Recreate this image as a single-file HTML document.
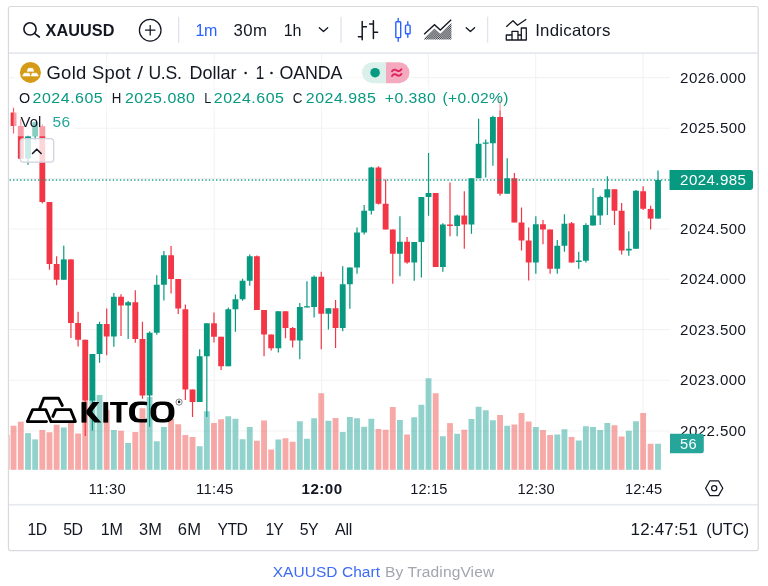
<!DOCTYPE html><html><head><meta charset="utf-8"><title>XAUUSD Chart</title>
<style>html,body{margin:0;padding:0;background:#fff}body{width:768px;height:586px;overflow:hidden;font-family:"Liberation Sans", sans-serif}svg{display:block;will-change:transform}text{font-family:"Liberation Sans", sans-serif}</style>
</head><body>
<svg width="768" height="586" viewBox="0 0 768 586">
<rect width="768" height="586" fill="#fff"/>
<g stroke="#F1F3F3" stroke-width="1.1">
<line x1="9.5" x2="669.7" y1="77.6" y2="77.6"/>
<line x1="9.5" x2="669.7" y1="128.2" y2="128.2"/>
<line x1="9.5" x2="669.7" y1="178.5" y2="178.5"/>
<line x1="9.5" x2="669.7" y1="229" y2="229"/>
<line x1="9.5" x2="669.7" y1="279.3" y2="279.3"/>
<line x1="9.5" x2="669.7" y1="329.6" y2="329.6"/>
<line x1="9.5" x2="669.7" y1="380.3" y2="380.3"/>
<line x1="9.5" x2="669.7" y1="431" y2="431"/>
<line x1="106.6" x2="106.6" y1="54" y2="470"/>
<line x1="214.2" x2="214.2" y1="54" y2="470"/>
<line x1="321.6" x2="321.6" y1="54" y2="470"/>
<line x1="428.3" x2="428.3" y1="54" y2="470"/>
<line x1="535.7" x2="535.7" y1="54" y2="470"/>
<line x1="643" x2="643" y1="54" y2="470"/>
</g>
<g id="vol">
<rect x="9.05" y="435" width="0.65" height="34.8" fill="rgba(239,83,80,0.5)"/>
<rect x="10.64" y="425.75" width="5.85" height="44.05" fill="rgba(239,83,80,0.5)"/>
<rect x="17.85" y="421.7" width="5.85" height="48.1" fill="rgba(239,83,80,0.5)"/>
<rect x="25.1" y="433.1" width="5.85" height="36.7" fill="rgba(38,166,154,0.5)"/>
<rect x="32.25" y="439.4" width="5.85" height="30.4" fill="rgba(38,166,154,0.5)"/>
<rect x="39.4" y="430" width="5.85" height="39.8" fill="rgba(239,83,80,0.5)"/>
<rect x="46.55" y="432.25" width="5.85" height="37.55" fill="rgba(239,83,80,0.5)"/>
<rect x="53.71" y="424.75" width="5.85" height="45.05" fill="rgba(239,83,80,0.5)"/>
<rect x="60.86" y="427.5" width="5.85" height="42.3" fill="rgba(38,166,154,0.5)"/>
<rect x="68.01" y="423" width="5.85" height="46.8" fill="rgba(239,83,80,0.5)"/>
<rect x="75.16" y="433.5" width="5.85" height="36.3" fill="rgba(239,83,80,0.5)"/>
<rect x="82.31" y="401" width="5.85" height="68.8" fill="rgba(239,83,80,0.5)"/>
<rect x="89.47" y="398.5" width="5.85" height="71.3" fill="rgba(38,166,154,0.5)"/>
<rect x="96.62" y="395" width="5.85" height="74.8" fill="rgba(38,166,154,0.5)"/>
<rect x="103.77" y="410" width="5.85" height="59.8" fill="rgba(239,83,80,0.5)"/>
<rect x="110.92" y="430" width="5.85" height="39.8" fill="rgba(38,166,154,0.5)"/>
<rect x="118.08" y="430.75" width="5.85" height="39.05" fill="rgba(239,83,80,0.5)"/>
<rect x="125.23" y="443" width="5.85" height="26.8" fill="rgba(38,166,154,0.5)"/>
<rect x="132.38" y="432" width="5.85" height="37.8" fill="rgba(239,83,80,0.5)"/>
<rect x="139.53" y="408.25" width="5.85" height="61.55" fill="rgba(239,83,80,0.5)"/>
<rect x="146.68" y="397" width="5.85" height="72.8" fill="rgba(38,166,154,0.5)"/>
<rect x="153.83" y="441.25" width="5.85" height="28.55" fill="rgba(38,166,154,0.5)"/>
<rect x="160.99" y="427" width="5.85" height="42.8" fill="rgba(38,166,154,0.5)"/>
<rect x="168.14" y="419" width="5.85" height="50.8" fill="rgba(239,83,80,0.5)"/>
<rect x="175.29" y="424.25" width="5.85" height="45.55" fill="rgba(239,83,80,0.5)"/>
<rect x="182.44" y="435" width="5.85" height="34.8" fill="rgba(239,83,80,0.5)"/>
<rect x="189.59" y="437" width="5.85" height="32.8" fill="rgba(239,83,80,0.5)"/>
<rect x="196.75" y="446.25" width="5.85" height="23.55" fill="rgba(38,166,154,0.5)"/>
<rect x="203.9" y="411.25" width="5.85" height="58.55" fill="rgba(38,166,154,0.5)"/>
<rect x="211.05" y="423" width="5.85" height="46.8" fill="rgba(239,83,80,0.5)"/>
<rect x="218.2" y="419.25" width="5.85" height="50.55" fill="rgba(239,83,80,0.5)"/>
<rect x="225.35" y="416.25" width="5.85" height="53.55" fill="rgba(38,166,154,0.5)"/>
<rect x="232.51" y="418.75" width="5.85" height="51.05" fill="rgba(38,166,154,0.5)"/>
<rect x="239.66" y="439.25" width="5.85" height="30.55" fill="rgba(38,166,154,0.5)"/>
<rect x="246.81" y="427" width="5.85" height="42.8" fill="rgba(38,166,154,0.5)"/>
<rect x="253.96" y="440.75" width="5.85" height="29.05" fill="rgba(239,83,80,0.5)"/>
<rect x="261.12" y="420.5" width="5.85" height="49.3" fill="rgba(239,83,80,0.5)"/>
<rect x="268.27" y="449.5" width="5.85" height="20.3" fill="rgba(239,83,80,0.5)"/>
<rect x="275.42" y="439.5" width="5.85" height="30.3" fill="rgba(38,166,154,0.5)"/>
<rect x="282.57" y="438.25" width="5.85" height="31.55" fill="rgba(239,83,80,0.5)"/>
<rect x="289.72" y="441.75" width="5.85" height="28.05" fill="rgba(239,83,80,0.5)"/>
<rect x="296.88" y="421.25" width="5.85" height="48.55" fill="rgba(38,166,154,0.5)"/>
<rect x="304.03" y="438.75" width="5.85" height="31.05" fill="rgba(38,166,154,0.5)"/>
<rect x="311.18" y="418.25" width="5.85" height="51.55" fill="rgba(38,166,154,0.5)"/>
<rect x="318.33" y="393.25" width="5.85" height="76.55" fill="rgba(239,83,80,0.5)"/>
<rect x="325.48" y="420.75" width="5.85" height="49.05" fill="rgba(38,166,154,0.5)"/>
<rect x="332.64" y="418" width="5.85" height="51.8" fill="rgba(239,83,80,0.5)"/>
<rect x="339.79" y="432" width="5.85" height="37.8" fill="rgba(38,166,154,0.5)"/>
<rect x="346.94" y="417" width="5.85" height="52.8" fill="rgba(38,166,154,0.5)"/>
<rect x="354.09" y="418.25" width="5.85" height="51.55" fill="rgba(38,166,154,0.5)"/>
<rect x="361.24" y="426.75" width="5.85" height="43.05" fill="rgba(38,166,154,0.5)"/>
<rect x="368.4" y="418.75" width="5.85" height="51.05" fill="rgba(38,166,154,0.5)"/>
<rect x="375.55" y="429" width="5.85" height="40.8" fill="rgba(239,83,80,0.5)"/>
<rect x="382.7" y="429.75" width="5.85" height="40.05" fill="rgba(239,83,80,0.5)"/>
<rect x="389.85" y="407" width="5.85" height="62.8" fill="rgba(239,83,80,0.5)"/>
<rect x="397" y="420" width="5.85" height="49.8" fill="rgba(38,166,154,0.5)"/>
<rect x="404.16" y="434.5" width="5.85" height="35.3" fill="rgba(239,83,80,0.5)"/>
<rect x="411.31" y="417.25" width="5.85" height="52.55" fill="rgba(38,166,154,0.5)"/>
<rect x="418.46" y="404.75" width="5.85" height="65.05" fill="rgba(38,166,154,0.5)"/>
<rect x="425.61" y="378.25" width="5.85" height="91.55" fill="rgba(38,166,154,0.5)"/>
<rect x="432.76" y="393.25" width="5.85" height="76.55" fill="rgba(239,83,80,0.5)"/>
<rect x="439.92" y="436.25" width="5.85" height="33.55" fill="rgba(38,166,154,0.5)"/>
<rect x="447.07" y="423.1" width="5.85" height="46.7" fill="rgba(239,83,80,0.5)"/>
<rect x="454.22" y="433.75" width="5.85" height="36.05" fill="rgba(38,166,154,0.5)"/>
<rect x="461.37" y="429.75" width="5.85" height="40.05" fill="rgba(239,83,80,0.5)"/>
<rect x="468.52" y="419" width="5.85" height="50.8" fill="rgba(38,166,154,0.5)"/>
<rect x="475.68" y="406.75" width="5.85" height="63.05" fill="rgba(38,166,154,0.5)"/>
<rect x="482.83" y="410.25" width="5.85" height="59.55" fill="rgba(38,166,154,0.5)"/>
<rect x="489.98" y="420.25" width="5.85" height="49.55" fill="rgba(38,166,154,0.5)"/>
<rect x="497.13" y="415" width="5.85" height="54.8" fill="rgba(239,83,80,0.5)"/>
<rect x="504.28" y="425.75" width="5.85" height="44.05" fill="rgba(38,166,154,0.5)"/>
<rect x="511.44" y="424.5" width="5.85" height="45.3" fill="rgba(239,83,80,0.5)"/>
<rect x="518.59" y="413" width="5.85" height="56.8" fill="rgba(239,83,80,0.5)"/>
<rect x="525.74" y="421.5" width="5.85" height="48.3" fill="rgba(239,83,80,0.5)"/>
<rect x="532.89" y="427" width="5.85" height="42.8" fill="rgba(38,166,154,0.5)"/>
<rect x="540.04" y="430" width="5.85" height="39.8" fill="rgba(239,83,80,0.5)"/>
<rect x="547.2" y="435" width="5.85" height="34.8" fill="rgba(239,83,80,0.5)"/>
<rect x="554.35" y="434.5" width="5.85" height="35.3" fill="rgba(38,166,154,0.5)"/>
<rect x="561.5" y="429.25" width="5.85" height="40.55" fill="rgba(38,166,154,0.5)"/>
<rect x="568.65" y="437" width="5.85" height="32.8" fill="rgba(239,83,80,0.5)"/>
<rect x="575.8" y="440.5" width="5.85" height="29.3" fill="rgba(38,166,154,0.5)"/>
<rect x="582.96" y="426.25" width="5.85" height="43.55" fill="rgba(38,166,154,0.5)"/>
<rect x="590.11" y="427" width="5.85" height="42.8" fill="rgba(38,166,154,0.5)"/>
<rect x="597.26" y="430" width="5.85" height="39.8" fill="rgba(38,166,154,0.5)"/>
<rect x="604.41" y="423" width="5.85" height="46.8" fill="rgba(38,166,154,0.5)"/>
<rect x="611.56" y="425.25" width="5.85" height="44.55" fill="rgba(239,83,80,0.5)"/>
<rect x="618.72" y="436.5" width="5.85" height="33.3" fill="rgba(239,83,80,0.5)"/>
<rect x="625.87" y="430.75" width="5.85" height="39.05" fill="rgba(38,166,154,0.5)"/>
<rect x="633.07" y="421.25" width="5.85" height="48.55" fill="rgba(38,166,154,0.5)"/>
<rect x="640.22" y="413" width="5.85" height="56.8" fill="rgba(239,83,80,0.5)"/>
<rect x="647.67" y="443.75" width="5.85" height="26.05" fill="rgba(239,83,80,0.5)"/>
<rect x="655.08" y="443.75" width="5.85" height="26.05" fill="rgba(38,166,154,0.5)"/>
</g>
<g id="candles">
<rect x="12.97" y="107.75" width="1.2" height="25.75" fill="#F23645"/>
<rect x="10.64" y="112.5" width="5.85" height="13.5" fill="#F23645"/>
<rect x="20.17" y="119" width="1.2" height="39.75" fill="#F23645"/>
<rect x="17.85" y="126" width="5.85" height="32.75" fill="#F23645"/>
<rect x="27.42" y="135.5" width="1.2" height="29.25" fill="#089981"/>
<rect x="25.1" y="136.25" width="5.85" height="22.25" fill="#089981"/>
<rect x="34.58" y="122" width="1.2" height="18.6" fill="#089981"/>
<rect x="32.25" y="122.25" width="5.85" height="14" fill="#089981"/>
<rect x="41.73" y="124.4" width="1.2" height="79" fill="#F23645"/>
<rect x="39.4" y="126.25" width="5.85" height="75.75" fill="#F23645"/>
<rect x="48.88" y="202" width="1.2" height="67.75" fill="#F23645"/>
<rect x="46.55" y="202" width="5.85" height="62" fill="#F23645"/>
<rect x="56.03" y="256.25" width="1.2" height="29" fill="#F23645"/>
<rect x="53.71" y="264" width="5.85" height="15.75" fill="#F23645"/>
<rect x="63.18" y="245.6" width="1.2" height="34.15" fill="#089981"/>
<rect x="60.86" y="259.4" width="5.85" height="20.35" fill="#089981"/>
<rect x="70.34" y="259.4" width="1.2" height="78.6" fill="#F23645"/>
<rect x="68.01" y="259.4" width="5.85" height="63.6" fill="#F23645"/>
<rect x="77.49" y="311.75" width="1.2" height="34.75" fill="#F23645"/>
<rect x="75.16" y="323" width="5.85" height="16.75" fill="#F23645"/>
<rect x="84.64" y="339.75" width="1.2" height="96.25" fill="#F23645"/>
<rect x="82.31" y="339.75" width="5.85" height="60.85" fill="#F23645"/>
<rect x="91.79" y="354" width="1.2" height="76.6" fill="#089981"/>
<rect x="89.47" y="354" width="5.85" height="46.6" fill="#089981"/>
<rect x="98.94" y="321.75" width="1.2" height="41" fill="#089981"/>
<rect x="96.62" y="324" width="5.85" height="30" fill="#089981"/>
<rect x="106.1" y="308.5" width="1.2" height="46.75" fill="#F23645"/>
<rect x="103.77" y="324" width="5.85" height="12.5" fill="#F23645"/>
<rect x="113.25" y="293" width="1.2" height="53.75" fill="#089981"/>
<rect x="110.92" y="296.75" width="5.85" height="39.75" fill="#089981"/>
<rect x="120.4" y="294.25" width="1.2" height="41.75" fill="#F23645"/>
<rect x="118.08" y="296.75" width="5.85" height="8.75" fill="#F23645"/>
<rect x="127.55" y="301" width="1.2" height="38" fill="#089981"/>
<rect x="125.23" y="302.25" width="5.85" height="3.25" fill="#089981"/>
<rect x="134.7" y="290.25" width="1.2" height="52.5" fill="#F23645"/>
<rect x="132.38" y="302.25" width="5.85" height="36.75" fill="#F23645"/>
<rect x="141.86" y="321.75" width="1.2" height="77" fill="#F23645"/>
<rect x="139.53" y="339" width="5.85" height="56.5" fill="#F23645"/>
<rect x="149.01" y="331.5" width="1.2" height="95.25" fill="#089981"/>
<rect x="146.68" y="332.75" width="5.85" height="62.75" fill="#089981"/>
<rect x="156.16" y="275.25" width="1.2" height="59.5" fill="#089981"/>
<rect x="153.83" y="284.75" width="5.85" height="48" fill="#089981"/>
<rect x="163.31" y="251" width="1.2" height="49.5" fill="#089981"/>
<rect x="160.99" y="255.25" width="5.85" height="29.5" fill="#089981"/>
<rect x="170.46" y="246" width="1.2" height="47.5" fill="#F23645"/>
<rect x="168.14" y="255.25" width="5.85" height="23.75" fill="#F23645"/>
<rect x="177.62" y="279" width="1.2" height="35" fill="#F23645"/>
<rect x="175.29" y="279" width="5.85" height="29.5" fill="#F23645"/>
<rect x="184.77" y="304.5" width="1.2" height="95.5" fill="#F23645"/>
<rect x="182.44" y="309.25" width="5.85" height="80.25" fill="#F23645"/>
<rect x="191.92" y="389.5" width="1.2" height="27.5" fill="#F23645"/>
<rect x="189.59" y="389.5" width="5.85" height="12.5" fill="#F23645"/>
<rect x="199.07" y="349.25" width="1.2" height="52.75" fill="#089981"/>
<rect x="196.75" y="356.25" width="5.85" height="45.75" fill="#089981"/>
<rect x="206.22" y="323.25" width="1.2" height="93.75" fill="#089981"/>
<rect x="203.9" y="323.25" width="5.85" height="33" fill="#089981"/>
<rect x="213.38" y="312.5" width="1.2" height="30" fill="#F23645"/>
<rect x="211.05" y="323.25" width="5.85" height="13.5" fill="#F23645"/>
<rect x="220.53" y="336.75" width="1.2" height="33.25" fill="#F23645"/>
<rect x="218.2" y="336.75" width="5.85" height="29.5" fill="#F23645"/>
<rect x="227.68" y="307.5" width="1.2" height="58.75" fill="#089981"/>
<rect x="225.35" y="309.25" width="5.85" height="57" fill="#089981"/>
<rect x="234.83" y="294.5" width="1.2" height="37.25" fill="#089981"/>
<rect x="232.51" y="299.25" width="5.85" height="10" fill="#089981"/>
<rect x="241.98" y="278.75" width="1.2" height="22" fill="#089981"/>
<rect x="239.66" y="280.75" width="5.85" height="18.5" fill="#089981"/>
<rect x="249.14" y="254.5" width="1.2" height="31.25" fill="#089981"/>
<rect x="246.81" y="256.25" width="5.85" height="24.5" fill="#089981"/>
<rect x="256.29" y="255.5" width="1.2" height="54.5" fill="#F23645"/>
<rect x="253.96" y="256.25" width="5.85" height="53.75" fill="#F23645"/>
<rect x="263.44" y="310" width="1.2" height="46.25" fill="#F23645"/>
<rect x="261.12" y="310" width="5.85" height="24.5" fill="#F23645"/>
<rect x="270.59" y="334.5" width="1.2" height="16" fill="#F23645"/>
<rect x="268.27" y="334.5" width="5.85" height="13.75" fill="#F23645"/>
<rect x="277.74" y="311.25" width="1.2" height="41.25" fill="#089981"/>
<rect x="275.42" y="311.25" width="5.85" height="37" fill="#089981"/>
<rect x="284.9" y="311.25" width="1.2" height="27" fill="#F23645"/>
<rect x="282.57" y="311.25" width="5.85" height="16.75" fill="#F23645"/>
<rect x="292.05" y="327" width="1.2" height="20.5" fill="#F23645"/>
<rect x="289.72" y="328" width="5.85" height="12.5" fill="#F23645"/>
<rect x="299.2" y="303" width="1.2" height="56.25" fill="#089981"/>
<rect x="296.88" y="307" width="5.85" height="33.5" fill="#089981"/>
<rect x="306.35" y="281.25" width="1.2" height="26.25" fill="#089981"/>
<rect x="304.03" y="306.25" width="5.85" height="1.25" fill="#089981"/>
<rect x="313.5" y="275.5" width="1.2" height="42" fill="#089981"/>
<rect x="311.18" y="276.75" width="5.85" height="30.25" fill="#089981"/>
<rect x="320.66" y="271.75" width="1.2" height="77.5" fill="#F23645"/>
<rect x="318.33" y="276.75" width="5.85" height="37" fill="#F23645"/>
<rect x="327.81" y="308.25" width="1.2" height="21.25" fill="#089981"/>
<rect x="325.48" y="308.25" width="5.85" height="5.5" fill="#089981"/>
<rect x="334.96" y="300" width="1.2" height="48" fill="#F23645"/>
<rect x="332.64" y="308.25" width="5.85" height="19.75" fill="#F23645"/>
<rect x="342.11" y="266.25" width="1.2" height="65" fill="#089981"/>
<rect x="339.79" y="284.25" width="5.85" height="43.75" fill="#089981"/>
<rect x="349.26" y="267.5" width="1.2" height="41.25" fill="#089981"/>
<rect x="346.94" y="267.5" width="5.85" height="16.75" fill="#089981"/>
<rect x="356.42" y="227.5" width="1.2" height="46.25" fill="#089981"/>
<rect x="354.09" y="232.5" width="5.85" height="35" fill="#089981"/>
<rect x="363.57" y="205" width="1.2" height="29.5" fill="#089981"/>
<rect x="361.24" y="210.75" width="5.85" height="21.75" fill="#089981"/>
<rect x="370.72" y="166.75" width="1.2" height="47.75" fill="#089981"/>
<rect x="368.4" y="167.5" width="5.85" height="43.25" fill="#089981"/>
<rect x="377.87" y="166.25" width="1.2" height="38.25" fill="#F23645"/>
<rect x="375.55" y="167.5" width="5.85" height="36.25" fill="#F23645"/>
<rect x="385.02" y="179.5" width="1.2" height="50" fill="#F23645"/>
<rect x="382.7" y="203.75" width="5.85" height="25.75" fill="#F23645"/>
<rect x="392.18" y="229.5" width="1.2" height="54.25" fill="#F23645"/>
<rect x="389.85" y="229.5" width="5.85" height="24.25" fill="#F23645"/>
<rect x="399.33" y="216.25" width="1.2" height="60" fill="#089981"/>
<rect x="397" y="241.75" width="5.85" height="12" fill="#089981"/>
<rect x="406.48" y="237" width="1.2" height="26.75" fill="#F23645"/>
<rect x="404.16" y="241.75" width="5.85" height="20.75" fill="#F23645"/>
<rect x="413.63" y="242" width="1.2" height="38.75" fill="#089981"/>
<rect x="411.31" y="242" width="5.85" height="20.5" fill="#089981"/>
<rect x="420.78" y="197" width="1.2" height="80.5" fill="#089981"/>
<rect x="418.46" y="197" width="5.85" height="45" fill="#089981"/>
<rect x="427.94" y="153" width="1.2" height="62.75" fill="#089981"/>
<rect x="425.61" y="193" width="5.85" height="4" fill="#089981"/>
<rect x="435.09" y="193" width="1.2" height="74" fill="#F23645"/>
<rect x="432.76" y="193" width="5.85" height="74" fill="#F23645"/>
<rect x="442.24" y="223.25" width="1.2" height="48.5" fill="#089981"/>
<rect x="439.92" y="224.5" width="5.85" height="42.5" fill="#089981"/>
<rect x="449.39" y="182.5" width="1.2" height="53.75" fill="#F23645"/>
<rect x="447.07" y="224.5" width="5.85" height="1.5" fill="#F23645"/>
<rect x="456.54" y="214.5" width="1.2" height="21.75" fill="#089981"/>
<rect x="454.22" y="215.5" width="5.85" height="10.5" fill="#089981"/>
<rect x="463.7" y="191.25" width="1.2" height="57.5" fill="#F23645"/>
<rect x="461.37" y="215.5" width="5.85" height="9" fill="#F23645"/>
<rect x="470.85" y="178.25" width="1.2" height="55.5" fill="#089981"/>
<rect x="468.52" y="178.25" width="5.85" height="46.25" fill="#089981"/>
<rect x="478" y="118.75" width="1.2" height="59.5" fill="#089981"/>
<rect x="475.68" y="143.75" width="5.85" height="34.5" fill="#089981"/>
<rect x="485.15" y="139.5" width="1.2" height="38" fill="#089981"/>
<rect x="482.83" y="142.5" width="5.85" height="1.25" fill="#089981"/>
<rect x="492.3" y="115.75" width="1.2" height="50" fill="#089981"/>
<rect x="489.98" y="117" width="5.85" height="26.25" fill="#089981"/>
<rect x="499.46" y="99.5" width="1.2" height="96.25" fill="#F23645"/>
<rect x="497.13" y="117" width="5.85" height="76.75" fill="#F23645"/>
<rect x="506.61" y="158.25" width="1.2" height="35.5" fill="#089981"/>
<rect x="504.28" y="178.25" width="5.85" height="15.5" fill="#089981"/>
<rect x="513.76" y="173" width="1.2" height="49.5" fill="#F23645"/>
<rect x="511.44" y="178.25" width="5.85" height="44.25" fill="#F23645"/>
<rect x="520.91" y="207.5" width="1.2" height="43" fill="#F23645"/>
<rect x="518.59" y="222.5" width="5.85" height="18" fill="#F23645"/>
<rect x="528.06" y="227.5" width="1.2" height="53" fill="#F23645"/>
<rect x="525.74" y="240.5" width="5.85" height="22" fill="#F23645"/>
<rect x="535.22" y="216.25" width="1.2" height="57.5" fill="#089981"/>
<rect x="532.89" y="224.25" width="5.85" height="38.25" fill="#089981"/>
<rect x="542.37" y="220" width="1.2" height="24.25" fill="#F23645"/>
<rect x="540.04" y="224.25" width="5.85" height="5.25" fill="#F23645"/>
<rect x="549.52" y="229.5" width="1.2" height="44.25" fill="#F23645"/>
<rect x="547.2" y="229.5" width="5.85" height="39.25" fill="#F23645"/>
<rect x="556.67" y="240" width="1.2" height="33.75" fill="#089981"/>
<rect x="554.35" y="245.75" width="5.85" height="23" fill="#089981"/>
<rect x="563.82" y="214.25" width="1.2" height="37.5" fill="#089981"/>
<rect x="561.5" y="223.75" width="5.85" height="22" fill="#089981"/>
<rect x="570.98" y="222" width="1.2" height="40.5" fill="#F23645"/>
<rect x="568.65" y="223.25" width="5.85" height="39.25" fill="#F23645"/>
<rect x="578.13" y="251.75" width="1.2" height="17" fill="#089981"/>
<rect x="575.8" y="260.5" width="5.85" height="1.5" fill="#089981"/>
<rect x="585.28" y="223.25" width="1.2" height="39.25" fill="#089981"/>
<rect x="582.96" y="225" width="5.85" height="35.75" fill="#089981"/>
<rect x="592.43" y="188" width="1.2" height="37.5" fill="#089981"/>
<rect x="590.11" y="215.5" width="5.85" height="10" fill="#089981"/>
<rect x="599.58" y="195.75" width="1.2" height="29.25" fill="#089981"/>
<rect x="597.26" y="197" width="5.85" height="18.5" fill="#089981"/>
<rect x="606.74" y="176.25" width="1.2" height="38.75" fill="#089981"/>
<rect x="604.41" y="189.25" width="5.85" height="8.25" fill="#089981"/>
<rect x="613.89" y="189.25" width="1.2" height="35.75" fill="#F23645"/>
<rect x="611.56" y="189.25" width="5.85" height="21.5" fill="#F23645"/>
<rect x="621.04" y="203" width="1.2" height="51.5" fill="#F23645"/>
<rect x="618.72" y="210.75" width="5.85" height="39.75" fill="#F23645"/>
<rect x="628.19" y="231.25" width="1.2" height="24.5" fill="#089981"/>
<rect x="625.87" y="248.75" width="5.85" height="1.75" fill="#089981"/>
<rect x="635.39" y="190" width="1.2" height="58.75" fill="#089981"/>
<rect x="633.07" y="190.75" width="5.85" height="58" fill="#089981"/>
<rect x="642.55" y="186.25" width="1.2" height="23.75" fill="#F23645"/>
<rect x="640.22" y="191.25" width="5.85" height="17.5" fill="#F23645"/>
<rect x="650" y="205.75" width="1.2" height="23.75" fill="#F23645"/>
<rect x="647.67" y="208.9" width="5.85" height="9.7" fill="#F23645"/>
<rect x="657.4" y="170.5" width="1.2" height="48.1" fill="#089981"/>
<rect x="655.08" y="180" width="5.85" height="38.6" fill="#089981"/>
</g>
<g id="kitco">
<g fill="none" stroke="#000" stroke-width="2.9" stroke-linejoin="round" stroke-linecap="round">
<path d="M39.4 409.3L43.8 398.2H58.5L62.3 405.5"/>
<path d="M46.5 421.6H27.3L32.6 409.6H45.8L51 421.6H75.4L70.5 409.6H55.8L52.9 416.3"/>
</g>
<g fill="#000">
<rect x="81.5" y="402.1" width="5.0" height="20.5"/>
<path d="M86.4 410.4L92.8 402.1H99.4L91.9 411.6L101.3 422.6H94.6L86.4 413.8Z"/>
<rect x="103.3" y="402.1" width="4.9" height="20.5"/>
<path d="M110.1 402.1H127.7V405H121.4V422.6H116.5V405H110.1Z"/>
<clipPath id="cc"><path d="M128 400H147.1V405.2H141V418.8H147.1V424H128Z"/></clipPath>
<path clip-path="url(#cc)" fill-rule="evenodd" d="M139.1 401.5H143.5C150 401.5 153.5 404.82 153.5 411V413.1C153.5 419.28 150 422.6 143.5 422.6H139.1C132.6 422.6 129.1 419.28 129.1 413.1V411C129.1 404.82 132.6 401.5 139.1 401.5ZM140.5 405H142.5C146.07 405 148 407.1 148 411V413.1C148 417 146.07 419.1 142.5 419.1H140.5C136.93 419.1 135 417 135 413.1V411C135 407.1 136.93 405 140.5 405Z"/>
<path fill-rule="evenodd" d="M160.6 401.5H164.4C170.9 401.5 174.4 404.82 174.4 411V413.1C174.4 419.28 170.9 422.6 164.4 422.6H160.6C154.1 422.6 150.6 419.28 150.6 413.1V411C150.6 404.82 154.1 401.5 160.6 401.5ZM161.4 405H163.4C166.78 405 168.6 407.1 168.6 411V413.1C168.6 417 166.78 419.1 163.4 419.1H161.4C158.02 419.1 156.2 417 156.2 413.1V411C156.2 407.1 158.02 405 161.4 405Z"/>
</g>
<circle cx="179.1" cy="402.1" r="3.1" fill="none" stroke="#555" stroke-width="0.7"/><circle cx="179.1" cy="401.9" r="1.3" fill="#222"/>
</g>
<line x1="9.5" x2="669.7" y1="180" y2="180" stroke="#089981" stroke-opacity="0.9" stroke-width="1.4" stroke-dasharray="1.4 2.16"/>
<g fill="#fff" fill-opacity="0.52">
<rect x="13.6" y="61" width="398" height="24.5"/>
<rect x="13.6" y="86" width="498" height="24.5"/>
<rect x="13.6" y="111" width="62" height="25.3"/>
</g>
<g font-size="14" fill="#131722">
<text transform="translate(680.1 82.6) scale(1.0479 1)" font-size="14.4" fill="#131722" letter-spacing="0.392">2026.000</text>
<text transform="translate(680.1 133.2) scale(1.0479 1)" font-size="14.4" fill="#131722" letter-spacing="0.392">2025.500</text>
<text transform="translate(680.1 234) scale(1.0479 1)" font-size="14.4" fill="#131722" letter-spacing="0.392">2024.500</text>
<text transform="translate(680.1 284.3) scale(1.0479 1)" font-size="14.4" fill="#131722" letter-spacing="0.392">2024.000</text>
<text transform="translate(680.1 334.6) scale(1.0479 1)" font-size="14.4" fill="#131722" letter-spacing="0.392">2023.500</text>
<text transform="translate(680.1 385.3) scale(1.0479 1)" font-size="14.4" fill="#131722" letter-spacing="0.392">2023.000</text>
<text transform="translate(680.1 436) scale(1.0479 1)" font-size="14.4" fill="#131722" letter-spacing="0.392">2022.500</text>
</g>
<path d="M669.5 169.9H750.6Q753 169.9 753 172.3V187.6Q753 190 750.6 190H669.5Z" fill="#089981"/>
<text transform="translate(680.1 185) scale(1.0479 1)" font-size="14.4" fill="#fff" letter-spacing="0.392">2024.985</text>
<path d="M670 433.8H701.5Q703.8 433.8 703.8 436V451Q703.8 453.3 701.5 453.3H670Z" fill="#26A69A"/>
<text transform="translate(680.1 448.5) scale(1.0161 1)" font-size="14.4" fill="#fff" letter-spacing="0.254">56</text>
<g>
<text transform="translate(88.6 493.8) scale(1.0316 1)" font-size="14.4" fill="#131722" letter-spacing="0.268">11:30</text>
<text transform="translate(196.1 493.8) scale(1.0316 1)" font-size="14.4" fill="#131722" letter-spacing="0.268">11:45</text>
<text transform="translate(410.3 493.8) scale(1.0156 1)" font-size="14.4" fill="#131722" letter-spacing="0.139">12:15</text>
<text transform="translate(517.6 493.8) scale(1.0156 1)" font-size="14.4" fill="#131722" letter-spacing="0.139">12:30</text>
<text transform="translate(625 493.8) scale(1.0156 1)" font-size="14.4" fill="#131722" letter-spacing="0.139">12:45</text>
<text transform="translate(301.5 493.8) scale(1.0534 1)" font-size="14.4" fill="#131722" font-weight="bold" letter-spacing="0.467">12:00</text>
</g>
<g fill="none" stroke="#131722" stroke-width="1.25"><path d="M705.6 488.2L709.9 480.8H718.5L722.8 488.2L718.5 495.6H709.9Z" stroke-linejoin="round"/><circle cx="714.2" cy="488.2" r="2.6"/></g>
<rect x="9" y="52.2" width="749" height="1.8" fill="#E7E9F0"/>
<rect x="9" y="503.9" width="749" height="1.7" fill="#E7E9F0"/>
<rect x="8.45" y="6.5" width="749.75" height="544.1" rx="2" fill="none" stroke="#D8D9DD" stroke-width="1.2"/>
<rect x="178.05" y="16.7" width="1.3" height="26" fill="#E0E3EB"/>
<rect x="340.35" y="16.7" width="1.3" height="26" fill="#E0E3EB"/>
<rect x="486.95" y="16.7" width="1.3" height="26" fill="#E0E3EB"/>
<g fill="none" stroke="#131722" stroke-width="1.6" stroke-linecap="round"><circle cx="30" cy="28.9" r="6.1"/><path d="M34.5 33.4L39.4 37"/></g>
<text transform="translate(45.5 35.6) scale(1.0041 1)" font-size="16.2" fill="#131722" font-weight="bold" letter-spacing="0.055">XAUUSD</text>
<g fill="none" stroke="#131722" stroke-width="1.25"><circle cx="150.2" cy="30.2" r="10.8"/><path d="M145 30.2H155.4M150.2 25V35.4"/></g>
<text transform="translate(195.5 35.9) scale(0.9855 1)" font-size="16.3" fill="#2962FF" letter-spacing="-0.333">1m</text>
<text transform="translate(233.5 35.9) scale(1.0283 1)" font-size="16.3" fill="#131722" letter-spacing="0.437">30m</text>
<text transform="translate(283.7 35.9) scale(0.9864 1)" font-size="16.3" fill="#131722" letter-spacing="-0.250">1h</text>
<g fill="none" stroke="#131722" stroke-width="1.3" stroke-linecap="round" stroke-linejoin="round"><path d="M319.3 27.7L323.5 31.6L327.7 27.7"/><path d="M466.2 27.7L470.4 31.6L474.6 27.7"/></g>
<g fill="none" stroke="#131722" stroke-width="1.5" stroke-linecap="round"><path d="M362.2 21.6V39.8M358.4 36.8H362.2M362.2 26.7H366.4M373.4 20.8V38.5M369.6 23.9H373.4M373.4 32.3H377.6"/></g>
<g fill="#fff" stroke="#2962FF" stroke-width="1.4" stroke-linecap="round"><path d="M398.2 18.4V41.2M407.8 21.6V37.3" fill="none"/><rect x="395.8" y="21.7" width="4.9" height="15.9" rx="0.8"/><rect x="405.5" y="25.1" width="4.6" height="8.7" rx="0.8"/></g>
<defs><pattern id="dots" width="1.86" height="1.86" patternUnits="userSpaceOnUse"><rect width="0.98" height="0.98" fill="#131722"/><rect x="0.93" y="0.93" width="0.98" height="0.98" fill="#131722"/></pattern></defs>
<path d="M424.1 38.6L434.5 28.6L440.3 33.8L451.4 23.1V39.5H424.1Z" fill="url(#dots)"/>
<path d="M424.1 34.3L434.5 24.7L440.3 30.1L451.2 19.7" fill="none" stroke="#131722" stroke-width="1.35"/>
<g fill="none" stroke="#131722" stroke-width="1.3" stroke-linejoin="round"><path d="M506.3 26.7L513 20.8L517.5 25.3L526.3 19.2"/><path d="M506.3 40V35H512V31.3H518V35H521.3V28H526.3V40Z"/><path d="M512 35V40M518 35V40M521.3 35V40"/></g>
<text transform="translate(535.2 36.2) scale(1.0321 1)" font-size="16.3" fill="#131722" letter-spacing="0.244">Indicators</text>
<circle cx="30.4" cy="72.4" r="10.5" fill="#D59A16"/>
<g fill="#fff" stroke="#fff" stroke-width="0.6" stroke-linejoin="round"><path d="M27.1 71.3L28.4 68.3H32.6L33.9 71.3Z"/><path d="M22.6 76L24.2 73.2H29.2L30.1 76Z"/><path d="M31.2 76L32.1 73.2H36.8L38.4 76Z"/></g>
<g font-size="18" fill="#131722">
<text transform="translate(46.5 79.4) scale(1.0262 1)" font-size="18" fill="#131722" letter-spacing="0.255">Gold Spot</text>
<text transform="translate(137.2 79.4) scale(1.1508 1)" font-size="18" fill="#131722">/</text>
<text transform="translate(148.4 79.4) scale(0.9770 1)" font-size="18" fill="#131722" letter-spacing="-0.275">U.S.</text>
<text transform="translate(189.4 79.4) scale(1.0013 1)" font-size="18" fill="#131722" letter-spacing="0.012">Dollar</text>
<text transform="translate(255.8 79.4) scale(0.8500 1)" font-size="18" fill="#131722">1</text>
<text transform="translate(279.5 79.4) scale(0.9916 1)" font-size="18" fill="#131722" letter-spacing="-0.136">OANDA</text>
<circle cx="245.6" cy="73" r="1.25"/><circle cx="271.5" cy="73" r="1.25"/>
</g>
<path d="M372.5 62.2H386V83.2H372.5A10.5 10.5 0 0 1 372.5 62.2Z" fill="#DBF0EB"/>
<path d="M386 62.2H399A10.5 10.5 0 0 1 399 83.2H386Z" fill="#F5A9BE"/>
<circle cx="375.1" cy="72.7" r="4.8" fill="#089981"/>
<g fill="none" stroke="#E0245E" stroke-width="1.9" stroke-linecap="round"><path d="M392 71.3C393.1 69.4 395.2 69.2 396.8 70.4C398.4 71.6 400.2 71.2 401.4 69.3"/><path d="M392 75.9C393.1 74 395.2 73.8 396.8 75C398.4 76.2 400.2 75.8 401.4 73.9"/></g>
<g font-size="14.8">
<text transform="translate(18.9 102.9) scale(0.9702 1)" font-size="14.8" fill="#131722">O</text>
<text transform="translate(32.6 102.9) scale(1.0574 1)" font-size="15.1" fill="#089981" letter-spacing="0.489">2024.605</text>
<text transform="translate(111.7 102.9) scale(0.9009 1)" font-size="14.8" fill="#131722">H</text>
<text transform="translate(125 102.9) scale(1.0558 1)" font-size="15.1" fill="#089981" letter-spacing="0.476">2025.080</text>
<text transform="translate(204.2 102.9) scale(0.8500 1)" font-size="14.8" fill="#131722">L</text>
<text transform="translate(213.8 102.9) scale(1.0574 1)" font-size="15.1" fill="#089981" letter-spacing="0.489">2024.605</text>
<text transform="translate(292.8 102.9) scale(0.9103 1)" font-size="14.8" fill="#131722">C</text>
<text transform="translate(305.8 102.9) scale(1.0558 1)" font-size="15.1" fill="#089981" letter-spacing="0.476">2024.985</text>
<text transform="translate(384.7 102.9) scale(1.0485 1)" font-size="15.1" fill="#089981" letter-spacing="0.431">+0.380</text>
<text transform="translate(442.5 102.9) scale(1.0350 1)" font-size="15.1" fill="#089981" letter-spacing="0.298">(+0.02%)</text>
</g>
<text transform="translate(20.4 126.8) scale(1.0104 1)" font-size="14.8" fill="#131722" letter-spacing="0.106">Vol</text>
<text transform="translate(52.6 126.9) scale(1.0250 1)" font-size="15.1" fill="#26A69A" letter-spacing="0.409">56</text>
<rect x="20.3" y="138.5" width="33.4" height="23.7" rx="3.2" fill="#fff" fill-opacity="0.8" stroke="#CFD2DC" stroke-width="1.25"/>
<path d="M32.5 153.5L36.8 149.2L41.1 153.5" fill="none" stroke="#131722" stroke-width="1.6" stroke-linecap="round" stroke-linejoin="round"/>
<g font-size="16.3" fill="#131722">
<text transform="translate(27.6 534.7) scale(0.9697 1)" font-size="16.3" fill="#131722" letter-spacing="-0.652">1D</text>
<text transform="translate(63.2 534.7) scale(0.9769 1)" font-size="16.3" fill="#131722" letter-spacing="-0.493">5D</text>
<text transform="translate(100.7 534.7) scale(0.9899 1)" font-size="16.3" fill="#131722" letter-spacing="-0.231">1M</text>
<text transform="translate(138.9 534.7) scale(1.0054 1)" font-size="16.3" fill="#131722" letter-spacing="0.121">3M</text>
<text transform="translate(177.7 534.7) scale(1.0164 1)" font-size="16.3" fill="#131722" letter-spacing="0.366">6M</text>
<text transform="translate(217.5 534.7) scale(0.9678 1)" font-size="16.3" fill="#131722" letter-spacing="-0.542">YTD</text>
<text transform="translate(265.4 534.7) scale(0.9607 1)" font-size="16.3" fill="#131722" letter-spacing="-0.816">1Y</text>
<text transform="translate(299.7 534.7) scale(0.9733 1)" font-size="16.3" fill="#131722" letter-spacing="-0.548">5Y</text>
<text transform="translate(335 534.7) scale(0.9808 1)" font-size="16.3" fill="#131722" letter-spacing="-0.177">All</text>
<text transform="translate(630.6 534.7) scale(1.0204 1)" font-size="16.6" fill="#131722" letter-spacing="0.185">12:47:51</text>
<text transform="translate(706.3 534.7) scale(0.9809 1)" font-size="16.4" fill="#131722" letter-spacing="-0.218">(UTC)</text>
</g>
<text transform="translate(272.7 576.7) scale(1.0056 1)" font-size="15.4" fill="#3D6BF5" letter-spacing="0.054">XAUUSD Chart</text>
<text transform="translate(385 576.7) scale(1.0117 1)" font-size="15.4" fill="#A3A6AF" letter-spacing="0.095">By TradingView</text>
</svg></body></html>
